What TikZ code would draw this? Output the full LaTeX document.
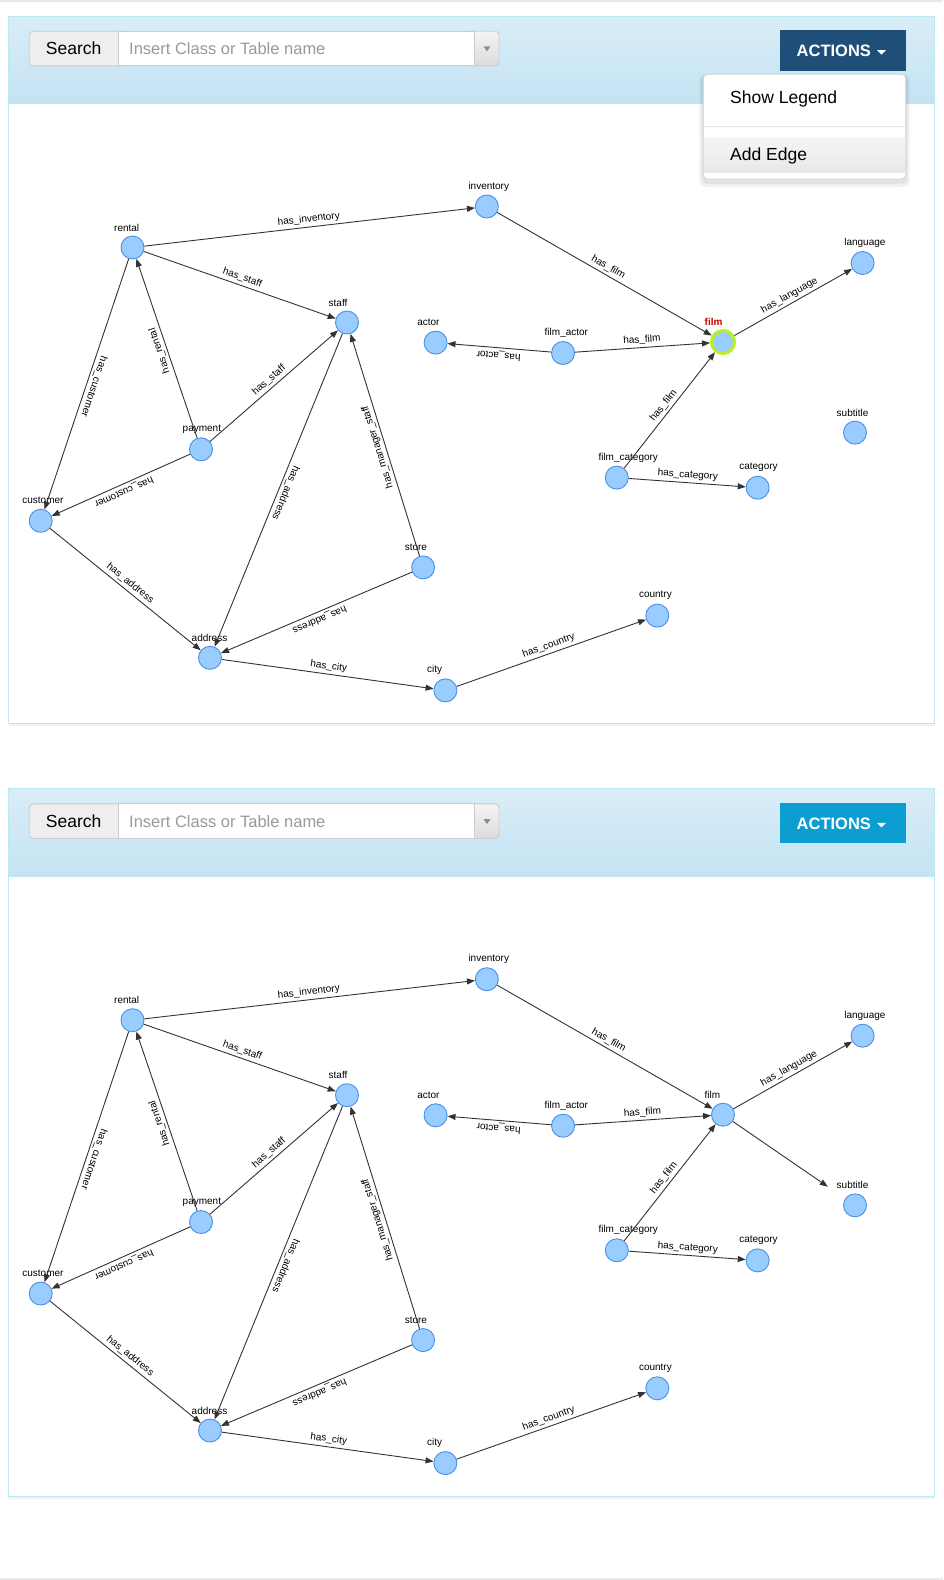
\documentclass[tikz,border=0pt]{standalone}
\usepackage{fontspec}
\setmainfont{Liberation Sans}
\usetikzlibrary{arrows.meta}

\definecolor{headtop}{RGB}{217,237,247}
\definecolor{headbot}{RGB}{196,227,243}
\definecolor{panelborder}{RGB}{188,232,241}
\definecolor{nodefill}{RGB}{153,204,255}
\definecolor{nodeborder}{RGB}{74,144,226}
\definecolor{edgecol}{RGB}{51,51,51}
\definecolor{ringcol}{RGB}{185,240,30}
\definecolor{filmred}{RGB}{204,0,0}
\definecolor{actdark}{RGB}{31,78,121}
\definecolor{actlight}{RGB}{12,158,208}
\definecolor{addonfill}{RGB}{238,238,238}
\definecolor{inputborder}{RGB}{204,204,204}
\definecolor{placeholder}{RGB}{153,153,153}
\definecolor{menuborder}{RGB}{210,210,210}
\definecolor{sepcol}{RGB}{229,229,229}
\definecolor{pagegray}{RGB}{232,232,232}

\tikzset{
  ent/.style={circle, draw=nodeborder, fill=nodefill, line width=0.9pt, minimum size=23pt, inner sep=0pt},
  filmsel/.style={draw=ringcol, line width=3pt},
  entlbl/.style={font=\fontsize{10}{12}\selectfont, text=black, anchor=west, inner sep=0pt},
  filmlbl/.style={font=\fontsize{10}{12}\selectfont\bfseries, text=filmred},
  rel/.style={draw=edgecol, line width=0.9pt, -{Triangle[length=8pt,width=6pt]}},
  rellbl/.style={font=\fontsize{10}{12}\selectfont, sloped, allow upside down, above, pos=0.5, text=black, inner sep=2.5pt},
  uitext/.style={font=\fontsize{17.5}{20}\selectfont, inner sep=0pt},
}

% #1 name, #2 x, #3 y, #4 text, #5 circle style, #6 label style
\newcommand\entnode[6]{%
  \node[ent,#5] (#1) at (#2,#3) {};
  \node[entlbl,#6] (#1-l) at ({#2-18.5},{#3-20}) {#4};
}

% #1 prefix, #2 film circle style, #3 film label style
\newcommand\erdgraph[3]{%
  \entnode{#1rental}{132.5}{247.5}{rental}{}{}
  \entnode{#1inventory}{486.8}{206.5}{inventory}{}{}
  \entnode{#1staff}{347}{322.5}{staff}{}{}
  \entnode{#1actor}{435.6}{342.6}{actor}{}{}
  \entnode{#1filmactor}{563}{353}{film\_actor}{}{}
  \entnode{#1film}{723}{342}{film}{#2}{#3}
  \entnode{#1language}{862.6}{263}{language}{}{}
  \entnode{#1subtitle}{855}{432.6}{subtitle}{}{}
  \entnode{#1payment}{201}{449.3}{payment}{}{}
  \entnode{#1filmcategory}{616.8}{477.6}{film\_category}{}{}
  \entnode{#1category}{757.6}{487.7}{category}{}{}
  \entnode{#1customer}{40.7}{520.8}{customer}{}{}
  \entnode{#1store}{423.1}{567.4}{store}{}{}
  \entnode{#1country}{657.3}{615.6}{country}{}{}
  \entnode{#1address}{210}{657.8}{address}{}{}
  \entnode{#1city}{445.4}{690.4}{city}{}{}
  \draw[rel] (#1rental) -- node[rellbl] (#1e1) {has\_inventory} (#1inventory);
  \draw[rel] (#1rental) -- node[rellbl] (#1e2) {has\_staff} (#1staff);
  \draw[rel] (#1rental) -- node[rellbl] (#1e3) {has\_customer} (#1customer);
  \draw[rel] (#1payment) -- node[rellbl] (#1e4) {has\_rental} (#1rental);
  \draw[rel] (#1payment) -- node[rellbl] (#1e5) {has\_staff} (#1staff);
  \draw[rel] (#1payment) -- node[rellbl] (#1e6) {has\_customer} (#1customer);
  \draw[rel] (#1inventory) -- node[rellbl] (#1e7) {has\_film} (#1film);
  \draw[rel] (#1filmactor) -- node[rellbl] (#1e8) {has\_actor} (#1actor);
  \draw[rel] (#1filmactor) -- node[rellbl] (#1e9) {has\_film} (#1film);
  \draw[rel] (#1film) -- node[rellbl] (#1e10) {has\_language} (#1language);
  \draw[rel] (#1filmcategory) -- node[rellbl] (#1e11) {has\_film} (#1film);
  \draw[rel] (#1filmcategory) -- node[rellbl] (#1e12) {has\_category} (#1category);
  \draw[rel] (#1staff) -- node[rellbl] (#1e13) {has\_address} (#1address);
  \draw[rel] (#1store) -- node[rellbl] (#1e14) {has\_manager\_staff} (#1staff);
  \draw[rel] (#1customer) -- node[rellbl] (#1e15) {has\_address} (#1address);
  \draw[rel] (#1store) -- node[rellbl] (#1e16) {has\_address} (#1address);
  \draw[rel] (#1address) -- node[rellbl] (#1e17) {has\_city} (#1city);
  \draw[rel] (#1city) -- node[rellbl] (#1e18) {has\_country} (#1country);
}

% #1 prefix, #2 actions colour
\newcommand\panelframe[2]{%
  \fill[black, opacity=0.05] (8.5,723.4) rectangle (934.5,726);
  \fill[white] (8.5,16) rectangle (934.5,723.4);
  \shade[top color=headtop, bottom color=headbot] (8.5,16) rectangle (934.5,103.5);
  \draw[panelborder, line width=1pt] (8.5,16) rectangle (934.5,723.4);
  % search group
  \draw[fill=addonfill, draw=inputborder, line width=0.9pt, rounded corners=4pt] (29.2,31.2) rectangle (130,65.8);
  \shade[top color=white!96!black, bottom color=white!86!black, rounded corners=4pt] (462,31.2) rectangle (499,65.8);
  \draw[draw=inputborder, line width=0.9pt, rounded corners=4pt] (462,31.2) rectangle (499,65.8);
  \draw[fill=white, draw=inputborder, line width=0.9pt] (118,31.2) rectangle (474.3,65.8);
  \fill[black!45] (483.5,46.3) -- (490.5,46.3) -- (487,51.3) -- cycle;
  \node[uitext, anchor=center] (#1search) at (73.6,48.5) {Search};
  \node[uitext, anchor=west, text=placeholder, font=\fontsize{16.5}{20}\selectfont] (#1placeholder) at (129,48.5) {Insert Class or Table name};
  % actions button
  \fill[#2] (780,30.2) rectangle (906,70.6);
  \node[uitext, anchor=west, text=white, font=\fontsize{16.5}{20}\selectfont\bfseries] (#1actions) at (796.5,51.2) {ACTIONS};
  \fill[white] (877,50.2) -- (886,50.2) -- (881.5,54.6) -- cycle;
}

\begin{document}
\begin{tikzpicture}[x=1pt,y=-1pt]
\useasboundingbox (0,0) rectangle (943,1580);
\fill[white] (0,0) rectangle (943,1580);
\fill[pagegray] (0,0) rectangle (943,1.6);
\fill[pagegray] (0,1578.4) rectangle (943,1580);

% ---------- panel 1 ----------
\panelframe{a}{actdark}
\erdgraph{a}{filmsel}{filmlbl}
% dropdown menu
\fill[black, opacity=0.05, rounded corners=6pt] (699.3,74.3) rectangle (909.7,187);
\fill[black, opacity=0.06, rounded corners=5pt] (701.3,75.3) rectangle (907.7,184);
\draw[fill=white, draw=menuborder, line width=0.8pt, rounded corners=4pt] (703.3,74.3) rectangle (905.7,179);
\draw[sepcol, line width=1pt] (703.8,126.7) -- (905.2,126.7);
\shade[top color=white!96!black, bottom color=white!91!black] (703.8,137.5) rectangle (905.2,172.7);
\node[uitext, anchor=west] (ashowlegend) at (730,99) {Show Legend};
\node[uitext, anchor=west] (aaddedge) at (730,156) {Add Edge};

% ---------- panel 2 ----------
\begin{scope}[shift={(0,772.7)}]
\panelframe{b}{actlight}
\erdgraph{b}{}{}
\draw[rel, shorten >=21pt] (bfilm) -- (bsubtitle);
\end{scope}
\end{tikzpicture}
\end{document}
